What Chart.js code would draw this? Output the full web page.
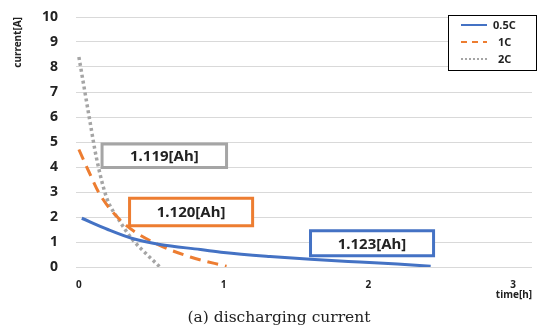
<!DOCTYPE html>
<html>
<head>
<meta charset="utf-8">
<script src="https://cdn.jsdelivr.net/npm/chart.js@4"></script>
<style>
  html, body { margin: 0; padding: 0; background: #fff; }
  #wrap { position: relative; width: 538px; height: 333px; }
</style>
</head>
<body>
<div id="wrap"><canvas id="myChart" width="538" height="333"></canvas></div>
<script>
// values (time in h, current in A)
var seriesNames = ['0.5C', '1C', '2C'];
var colors = ['#4472c4', '#ed7d31', '#a5a5a5'];

var t05 = [0.02, 0.2, 0.37, 0.56, 0.84, 1.0, 1.32, 1.6, 1.94, 2.2, 2.43];
var i05 = [1.95, 1.5, 1.14, 0.9, 0.70, 0.58, 0.42, 0.31, 0.2, 0.12, 0.03];

var t1 = [0, 0.07, 0.145, 0.3, 0.51, 0.77, 1.02];
var i1 = [4.7, 3.8, 2.9, 1.8, 1.0, 0.4, 0.03];

var t2 = [0, 0.04, 0.08, 0.12, 0.19, 0.28, 0.37, 0.47, 0.56];
var i2 = [8.4, 7.05, 5.7, 4.4, 2.8, 1.85, 1.1, 0.5, 0.0];

var xTicks = [0, 1, 2, 3];

// capacity labels: text, box corner (data coords), colour index
var capText = ['1.123[Ah]', '1.120[Ah]', '1.119[Ah]'];
var capBox = [[1.6, 1.45, 2.45, 0.45], [0.35, 2.75, 1.2, 1.65], [0.16, 4.92, 1.02, 3.98]];

function pts(xs, ys) {
	var out = [];
	for (var i = 0; i < xs.length; i++) out.push({x: xs[i], y: ys[i]});
	return out;
}

var boxPlugin = {
	id: 'capBoxes',
	afterDatasetsDraw: function(chart) {
		var ctx = chart.ctx, xs = chart.scales.x, ys = chart.scales.y;
		ctx.save();
		for (var i = 0; i < capText.length; i++) {
			var b = capBox[i];
			var x1 = xs.getPixelForValue(b[0]), y1 = ys.getPixelForValue(b[1]);
			var x2 = xs.getPixelForValue(b[2]), y2 = ys.getPixelForValue(b[3]);
			ctx.fillStyle = '#fff';
			ctx.fillRect(x1, y1, x2 - x1, y2 - y1);
			ctx.strokeStyle = colors[i];
			ctx.lineWidth = 3;
			ctx.strokeRect(x1, y1, x2 - x1, y2 - y1);
			ctx.fillStyle = '#222';
			ctx.font = 'bold 15px "Noto Sans"';
			ctx.textAlign = 'center';
			ctx.textBaseline = 'middle';
			ctx.fillText(capText[i], (x1 + x2) / 2, (y1 + y2) / 2 + 1);
		}

		// legend box, top right
		var lx = 448, ly = 15, lw = 89, lh = 56;
		ctx.fillStyle = '#fff';
		ctx.fillRect(lx, ly, lw, lh);
		ctx.strokeStyle = '#000';
		ctx.lineWidth = 1;
		ctx.strokeRect(lx + 0.5, ly + 0.5, lw - 1, lh - 1);
		var dashes = [[], [6, 5], [2, 2]];
		var textX = [493, 498, 498];
		for (var k = 0; k < seriesNames.length; k++) {
			var yy = ly + 10 + k * 17;
			ctx.beginPath();
			ctx.setLineDash(dashes[k]);
			ctx.strokeStyle = colors[k];
			ctx.lineWidth = 2;
			ctx.moveTo(461, yy);
			ctx.lineTo(487, yy);
			ctx.stroke();
			ctx.setLineDash([]);
			ctx.fillStyle = '#222';
			ctx.font = 'bold 11px "Noto Sans"';
			ctx.textAlign = 'left';
			ctx.textBaseline = 'middle';
			ctx.fillText(seriesNames[k], textX[k], yy + 1);
		}

		// caption
		ctx.fillStyle = '#222';
		ctx.font = '15.5px "DejaVu Serif"';
		ctx.textAlign = 'center';
		ctx.textBaseline = 'middle';
		ctx.fillText('(a) discharging current', 279, 318);
		ctx.restore();
	}
};

var ctx = document.getElementById('myChart');
var myChart = new Chart(ctx, {
	type: 'scatter',
	data: {
		datasets: [
			{
				label: seriesNames[0],
				data: pts(t05, i05),
				showLine: true,
				borderColor: colors[0],
				borderWidth: 3,
				pointRadius: 0,
				cubicInterpolationMode: 'monotone'
			},
			{
				label: seriesNames[1],
				data: pts(t1, i1),
				showLine: true,
				borderColor: colors[1],
				borderWidth: 3,
				borderDash: [11, 7],
				pointRadius: 0,
				cubicInterpolationMode: 'monotone'
			},
			{
				label: seriesNames[2],
				data: pts(t2, i2),
				showLine: true,
				borderColor: colors[2],
				borderWidth: 3.5,
				borderDash: [3, 3],
				pointRadius: 0,
				cubicInterpolationMode: 'monotone'
			}
		]
	},
	plugins: [boxPlugin],
	options: {
		responsive: false,
		animation: false,
		layout: { padding: { top: 17, right: 6, bottom: 32, left: 12 } },
		plugins: {
			legend: { display: false },
			tooltip: { enabled: false }
		},
		scales: {
			x: {
				type: 'linear',
				min: -0.02,
				max: 3.13,
				afterBuildTicks: function(axis) {
					axis.ticks = xTicks.map(function(v) { return {value: v}; });
				},
				grid: { display: false, drawTicks: false },
				border: { display: false },
				ticks: {
					color: '#222',
					font: { family: 'Noto Sans', size: 10, weight: 'bold' },
					padding: 12,
					maxRotation: 0
				},
				title: {
					display: true,
					text: 'time[h]',
					align: 'end',
					color: '#222',
					font: { family: 'Noto Sans', size: 10, weight: 'bold' },
					padding: { top: -14, bottom: 0 }
				}
			},
			y: {
				min: 0,
				max: 10,
				afterFit: function(scale) {
					scale.width = 64;
					scale.paddingTop = 0;
					scale.paddingBottom = 0;
				},
				grid: { color: '#d9d9d9', drawTicks: false },
				border: { display: false },
				ticks: {
					stepSize: 1,
					color: '#222',
					font: { family: 'Noto Sans', size: 14, weight: 'bold' },
					padding: 18
				},
				title: {
					display: true,
					text: 'current[A]',
					align: 'end',
					color: '#222',
					font: { family: 'Noto Sans', size: 10, weight: 'bold' },
					padding: { top: 0, bottom: 0 }
				}
			}
		}
	}
});
</script>
</body>
</html>
